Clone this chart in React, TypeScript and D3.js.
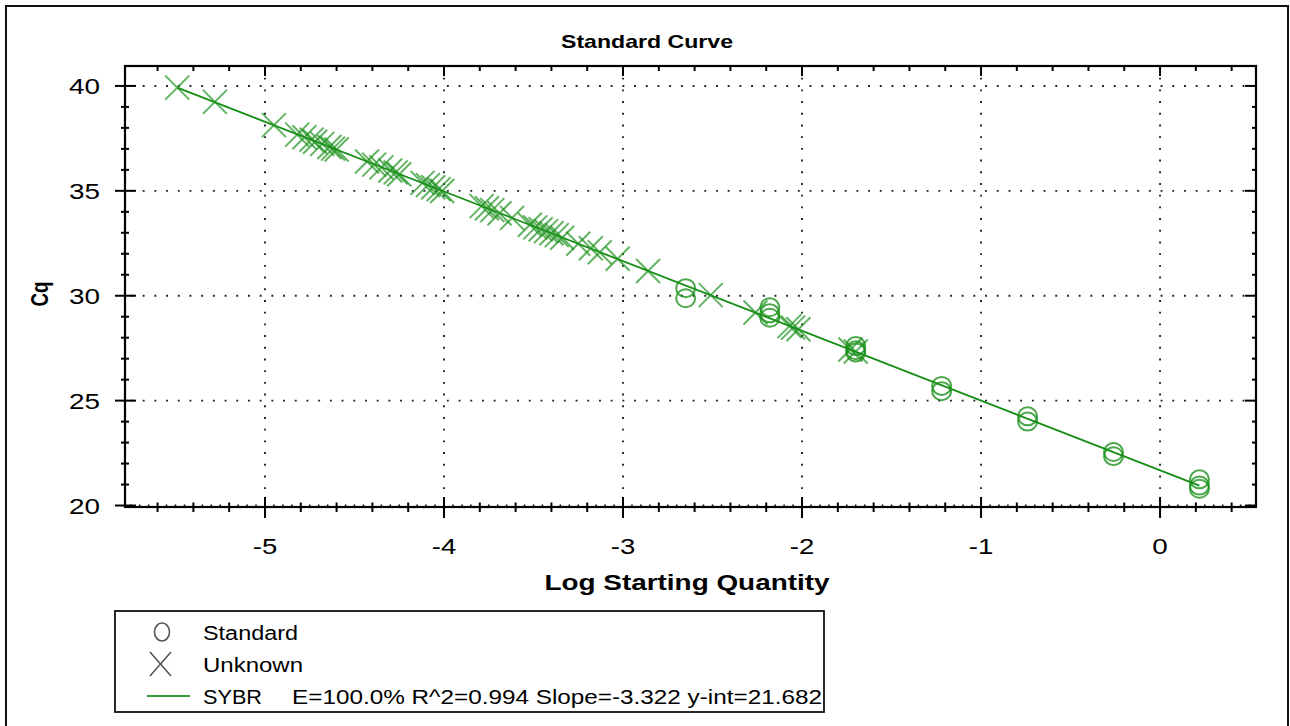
import React from "react";
import * as d3 from "d3";

// ---- data ----
const standardLogQty = [
  -2.65, -2.65,
  -2.18, -2.18, -2.18,
  -1.70, -1.70, -1.70,
  -1.22, -1.22,
  -0.74, -0.74,
  -0.26, -0.26,
  0.22, 0.22, 0.22,
];
const standardCq = [
  30.36, 29.88,
  29.45, 29.16, 28.95,
  27.6, 27.4, 27.3,
  25.7, 25.45,
  24.25, 24.0,
  22.55, 22.35,
  21.25, 20.95, 20.8,
];
const unknownLogQty = [
  -5.49, -5.28, -4.95, -4.82, -4.78, -4.74, -4.72, -4.68, -4.64, -4.62, -4.6,
  -4.43, -4.39, -4.35, -4.3, -4.27, -4.25, -4.12, -4.09, -4.06, -4.03, -4.01,
  -3.79, -3.76, -3.73, -3.69, -3.62, -3.52, -3.49, -3.46, -3.43, -3.4, -3.37,
  -3.34, -3.25, -3.18, -3.13, -3.03, -2.86, -2.51, -2.26, -2.07, -2.05, -2.02,
  -1.73, -1.70,
];
const unknownCq = [
  39.92, 39.24, 38.13, 37.68, 37.55, 37.44, 37.34, 37.24, 37.09, 37.01, 36.97,
  36.4, 36.25, 36.12, 35.97, 35.88, 35.79, 35.38, 35.27, 35.17, 35.08, 34.99,
  34.27, 34.17, 34.08, 33.93, 33.71, 33.38, 33.26, 33.17, 33.08, 32.98, 32.89,
  32.76, 32.48, 32.26, 32.07, 31.76, 31.18, 30.03, 29.2, 28.55, 28.48, 28.4,
  27.44, 27.34,
];
const fitSlope = -3.322;
const fitIntercept = 21.682;
const xTickValues = [-5, -4, -3, -2, -1, 0];
const xTickLabels = ["-5", "-4", "-3", "-2", "-1", "0"];
const yTickValues = [20, 25, 30, 35, 40];
const yTickLabels = ["20", "25", "30", "35", "40"];
const chartTitle = "Standard Curve";
const xTitle = "Log Starting Quantity";
const yTitle = "Cq";
const legendLabels = ["Standard", "Unknown", "SYBR"];
const legendStats = "E=100.0% R^2=0.994 Slope=-3.322 y-int=21.682";

const FONT = "'Liberation Sans', Arial, sans-serif";
const GREEN = "#178f17";

export default function App() {
  const W = 1290, H = 726;
  const L = 125, R = 1256, T = 66, B = 507;
  const x = d3.scaleLinear().domain([-5.782, 0.536]).range([L, R]);
  const y = d3.scaleLinear().domain([19.93, 40.95]).range([B, T]);

  const xMid = d3.range(-5.6, 0.54, 0.2).filter((v) => Math.abs(v - Math.round(v)) > 0.01);
  const xTiny = d3.range(-5.75, 0.54, 0.05).filter((v) => Math.abs(v * 5 - Math.round(v * 5)) > 0.01);
  const yMinor = d3.range(20, 41, 1).filter((v) => v % 5 !== 0);

  const fitX0 = d3.min(unknownLogQty) as number;
  const fitX1 = d3.max(standardLogQty) as number;
  const line = d3.line<number>().x((v) => x(v)).y((v) => y(fitSlope * v + fitIntercept));

  const xlen = (s: string) => s.replace("-", "").length * 15.5 + (s.includes("-") ? 9 : 0);

  return (
    <svg width={W} height={H} style={{ position: "absolute", left: 0, top: 0, background: "#fff" }} fontFamily={FONT}>
      <rect x={0} y={0} width={W} height={H} fill="#fff" />
      {/* outer frame */}
      <rect x={6} y={6} width={1282} height={740} fill="none" stroke="#111" strokeWidth={2} />
      {/* title */}
      <text x={647} y={48} textAnchor="middle" fontSize={19} fontWeight="bold" textLength={172} lengthAdjust="spacingAndGlyphs">{chartTitle}</text>

      {/* grid */}
      {xTickValues.map((v) => (
        <line key={"gx" + v} x1={x(v)} x2={x(v)} y1={T} y2={B} stroke="#222" strokeWidth={1.9} strokeDasharray="1.9 9.8" />
      ))}
      {yTickValues.filter((v) => v !== 20).map((v) => (
        <line key={"gy" + v} x1={L} x2={R} y1={y(v)} y2={y(v)} stroke="#222" strokeWidth={1.9} strokeDasharray="1.9 9.8" strokeDashoffset={-6} />
      ))}

      {/* fit line */}
      <path d={line([fitX0, fitX1]) || ""} stroke={GREEN} strokeWidth={1.8} fill="none" />

      {/* unknowns */}
      <g stroke={GREEN} strokeWidth={2} strokeOpacity={0.68} fill="none">
        {unknownLogQty.map((v, i) => {
          const cx = x(v), cy = y(unknownCq[i]);
          const s = 12;
          return (
            <path key={"u" + i} d={`M${cx - s},${cy - s}L${cx + s},${cy + s}M${cx - s},${cy + s}L${cx + s},${cy - s}`} />
          );
        })}
      </g>
      {/* standards */}
      <g stroke={GREEN} strokeWidth={2} strokeOpacity={0.78} fill="none">
        {standardLogQty.map((v, i) => (
          <ellipse key={"s" + i} cx={x(v)} cy={y(standardCq[i])} rx={9.5} ry={9} />
        ))}
      </g>

      {/* axes frame */}
      <rect x={L} y={T} width={R - L} height={B - T} fill="none" stroke="#000" strokeWidth={2.2} />
      {/* bottom & top ticks */}
      {xTickValues.map((v) => (
        <g key={"xt" + v}>
          <line x1={x(v)} x2={x(v)} y1={B - 10} y2={B + 11} stroke="#000" strokeWidth={2} />
          <line x1={x(v)} x2={x(v)} y1={T} y2={T + 10} stroke="#000" strokeWidth={2} />
        </g>
      ))}
      {xMid.map((v, i) => (
        <g key={"xm" + i}>
          <line x1={x(v)} x2={x(v)} y1={B - 4.5} y2={B + 5} stroke="#000" strokeWidth={2} />
          <line x1={x(v)} x2={x(v)} y1={T} y2={T + 5} stroke="#000" strokeWidth={2} />
        </g>
      ))}
      {xTiny.map((v, i) => (
        <line key={"xs" + i} x1={x(v)} x2={x(v)} y1={B - 2.5} y2={B} stroke="#000" strokeWidth={1.5} />
      ))}
      {/* left & right ticks */}
      {yTickValues.map((v) => (
        <g key={"yt" + v}>
          <line x1={L - 10} x2={L + 11} y1={y(v)} y2={y(v)} stroke="#000" strokeWidth={2} />
          <line x1={R - 11} x2={R} y1={y(v)} y2={y(v)} stroke="#000" strokeWidth={2} />
        </g>
      ))}
      {yMinor.map((v) => (
        <g key={"ym" + v}>
          <line x1={L - 4} x2={L + 4} y1={y(v)} y2={y(v)} stroke="#000" strokeWidth={2} />
          <line x1={R - 4} x2={R} y1={y(v)} y2={y(v)} stroke="#000" strokeWidth={2} />
        </g>
      ))}

      {/* tick labels */}
      {xTickValues.map((v, i) => (
        <text key={"xl" + v} x={x(v)} y={554} textAnchor="middle" fontSize={22} textLength={xlen(xTickLabels[i])} lengthAdjust="spacingAndGlyphs">{xTickLabels[i]}</text>
      ))}
      {yTickValues.map((v, i) => (
        <text key={"yl" + v} x={100} y={y(v) + 8} textAnchor="end" fontSize={22} textLength={31} lengthAdjust="spacingAndGlyphs">{yTickLabels[i]}</text>
      ))}

      {/* axis titles */}
      <text x={687} y={590} textAnchor="middle" fontSize={22} fontWeight="bold" textLength={285} lengthAdjust="spacingAndGlyphs">{xTitle}</text>
      <text transform={`translate(48,294) rotate(-90)`} textAnchor="middle" fontSize={23} fontWeight="bold" textLength={25} lengthAdjust="spacingAndGlyphs">{yTitle}</text>

      {/* legend */}
      <rect x={115} y={611} width={709} height={101} fill="#fff" stroke="#111" strokeWidth={1.8} />
      <ellipse cx={162} cy={632} rx={7.5} ry={9} fill="none" stroke="#555" strokeWidth={1.6} />
      <path d={`M${150},${652}L${171},${676}M${150},${676}L${171},${652}`} stroke="#555" strokeWidth={1.5} fill="none" />
      <line x1={147} x2={190} y1={696} y2={696} stroke="#3a9e3a" strokeWidth={2} />
      <text x={203} y={640} fontSize={20} textLength={95} lengthAdjust="spacingAndGlyphs">{legendLabels[0]}</text>
      <text x={203} y={672} fontSize={20} textLength={100} lengthAdjust="spacingAndGlyphs">{legendLabels[1]}</text>
      <text x={203} y={704} fontSize={20} textLength={59} lengthAdjust="spacingAndGlyphs">{legendLabels[2]}</text>
      <text x={292} y={704} fontSize={20} textLength={530} lengthAdjust="spacingAndGlyphs">{legendStats}</text>
    </svg>
  );
}
